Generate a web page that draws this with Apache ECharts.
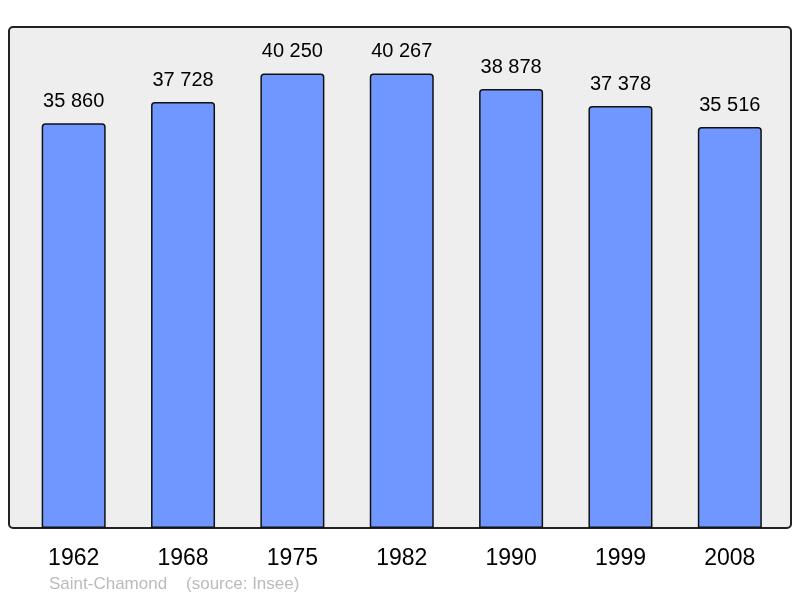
<!DOCTYPE html>
<html>
<head>
<meta charset="utf-8">
<script src="https://cdn.jsdelivr.net/npm/echarts@6/dist/echarts.min.js"></script>
<style>
    html, body {margin: 0; padding: 0; background: #fff;}
    #chart {width: 800px; height: 598px;}
</style>
</head>
<body>
<div id="chart"></div>
<script>
const years = ['1962', '1968', '1975', '1982', '1990', '1999', '2008'];
const population = [35860, 37728, 40250, 40267, 38878, 37378, 35516];
const caption = 'Saint-Chamond    (source: Insee)';

const fmt = v => String(v).replace(/\B(?=(\d{3})+(?!\d))/g, ' ');

const chart = echarts.init(document.getElementById('chart'));
chart.setOption({
    animation: false,
    textStyle: {fontFamily: 'Liberation Sans, Arial, sans-serif'},
    graphic: [
        {
            type: 'rect',
            z: -10,
            silent: true,
            shape: {x: 9, y: 27, width: 782, height: 501, r: 4},
            style: {fill: '#eeeeee', stroke: '#222', lineWidth: 2}
        },
        {
            type: 'text',
            left: 49,
            top: 576,
            silent: true,
            style: {text: caption, fill: '#bbbbbb', fontSize: 17, fontFamily: 'Liberation Sans, Arial, sans-serif'}
        }
    ],
    grid: {left: 19, right: 15.5, top: 20, bottom: 70},
    xAxis: {
        type: 'category',
        data: years,
        axisLine: {show: false},
        axisTick: {show: false},
        axisLabel: {fontSize: 23, color: '#000', margin: 19}
    },
    yAxis: {
        type: 'value',
        min: 0,
        max: 45000,
        show: false
    },
    series: [{
        type: 'bar',
        data: population,
        barWidth: 64,
        itemStyle: {color: '#7097ff', borderColor: '#111', borderWidth: 1.5, borderRadius: [3, 3, 0, 0]},
        label: {
            show: true,
            position: 'top',
            distance: 12,
            fontSize: 20,
            color: '#000',
            formatter: p => fmt(p.value)
        }
    }]
});
</script>
</body>
</html>
